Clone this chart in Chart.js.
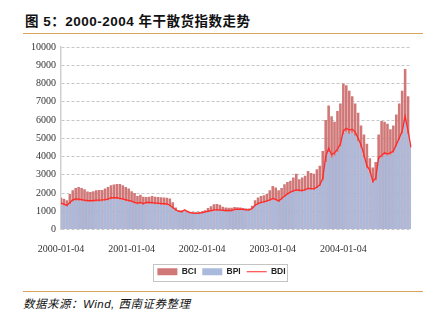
<!DOCTYPE html>
<html>
<head>
<meta charset="utf-8">
<script src="https://cdn.jsdelivr.net/npm/chart.js@4.4.1/dist/chart.umd.min.js"></script>
<style>
  html, body { margin: 0; padding: 0; background: #fff; }
  body { width: 434px; height: 323px; position: relative; overflow: hidden; }
  .title { position: absolute; left: 25px; top: 10px; font: bold 13.5px "Liberation Sans", "Noto Sans CJK SC", sans-serif; letter-spacing: 0.5px; color: #111; white-space: nowrap; }
  .rule { position: absolute; left: 23px; width: 400px; height: 1px; background: #d9a45c; }
  .chart-box { position: absolute; left: 0; top: 36px; width: 434px; height: 252px; }
  .source { position: absolute; left: 23px; top: 295px; font: italic 11.5px "Liberation Sans", "Noto Sans CJK SC", sans-serif; color: #111; white-space: nowrap; letter-spacing: 0.5px; }
</style>
</head>
<body>
<div class="title">图 5：2000-2004 年干散货指数走势</div>
<div class="rule" style="top:33px"></div>
<div class="chart-box"><canvas id="chart"></canvas></div>
<div class="rule" style="top:291px"></div>
<div class="source">数据来源：Wind, 西南证券整理</div>
<script>
// semi-monthly observations, 2000-2004
const years = ['2000', '2001', '2002', '2003', '2004'];
const periods = ['01-04', '01-18', '02-04', '02-18', '03-04', '03-18', '04-04', '04-18',
  '05-04', '05-18', '06-04', '06-18', '07-04', '07-18', '08-04', '08-18',
  '09-04', '09-18', '10-04', '10-18', '11-04', '11-18', '12-04', '12-18'];
const labels = years.flatMap(y => periods.map(p => y + '-' + p));

const bci = [
  1740, 1680, 1600, 1950, 2150, 2270, 2330, 2280, 2210, 2080, 2050, 2100, 2150, 2160, 2170, 2250, 2330, 2420, 2460, 2490, 2500, 2420, 2330, 2240,
  2100, 2000, 1830, 1900, 1800, 1780, 1790, 1830, 1800, 1780, 1770, 1750, 1740, 1700, 1500, 1200, 1060, 1050, 1060, 1030, 960, 950, 940, 960,
  1000, 1060, 1180, 1270, 1380, 1400, 1350, 1250, 1210, 1190, 1190, 1230, 1220, 1200, 1180, 1150, 1150, 1300, 1600, 1760, 1830, 1880, 1950, 2150,
  2390, 2300, 2150, 2280, 2480, 2600, 2670, 2850, 3050, 2750, 2850, 2950, 3200, 3100, 3050, 3300, 3500, 4300, 6000, 6800, 6200, 5900, 6500, 6900,
  8000, 7900, 7600, 7300, 6900, 6400, 5700, 5200, 4700, 3900, 3400, 3700, 5200, 5950, 5900, 5800, 5500, 5700, 6300, 6900, 7600, 8800, 7300, 4700
];
const bpi = [
  1370, 1330, 1270, 1400, 1550, 1590, 1580, 1560, 1540, 1520, 1510, 1520, 1540, 1540, 1550, 1570, 1600, 1660, 1670, 1670, 1640, 1610, 1560, 1520,
  1500, 1430, 1390, 1420, 1360, 1430, 1420, 1410, 1390, 1380, 1360, 1350, 1340, 1270, 1150, 1030, 960, 930, 1030, 940, 880, 860, 850, 870,
  880, 920, 960, 1000, 1030, 1030, 1030, 1010, 1000, 1000, 1000, 1060, 1080, 1070, 1060, 1040, 1040, 1110, 1290, 1380, 1440, 1480, 1530, 1580,
  1650, 1600, 1510, 1650, 1780, 1900, 2000, 2070, 2120, 2100, 2080, 2130, 2200, 2190, 2180, 2270, 2400, 2700, 3700, 4250, 3950, 4050, 4250, 4550,
  5200, 5350, 5250, 5300, 5150, 4850, 4500, 3950, 3350, 3100, 2550, 2700, 3850, 3950, 4100, 4050, 4100, 4200, 4550, 4900, 5250, 5950, 5250, 4550
];
const bdi = [
  1440, 1390, 1320, 1480, 1630, 1670, 1660, 1640, 1610, 1590, 1580, 1590, 1610, 1610, 1620, 1640, 1670, 1740, 1740, 1740, 1710, 1680, 1630, 1590,
  1560, 1490, 1450, 1480, 1420, 1490, 1480, 1470, 1450, 1440, 1420, 1410, 1400, 1330, 1200, 1080, 1000, 970, 1080, 980, 920, 900, 880, 900,
  920, 960, 1000, 1040, 1070, 1070, 1070, 1050, 1040, 1040, 1040, 1100, 1120, 1110, 1100, 1080, 1080, 1150, 1330, 1420, 1480, 1520, 1570, 1620,
  1700, 1650, 1560, 1700, 1830, 1950, 2050, 2120, 2170, 2150, 2130, 2180, 2250, 2240, 2230, 2320, 2450, 2800, 4000, 4450, 4100, 4200, 4400, 4700,
  5400, 5550, 5450, 5500, 5350, 5000, 4650, 4100, 3500, 3250, 2650, 2800, 3950, 4050, 4200, 4150, 4200, 4300, 4650, 5000, 5400, 6200, 5400, 4500
];

const serif = "'Liberation Serif', 'DejaVu Serif', serif";

const legendFrame = {
  id: 'legendFrame',
  afterDraw(chart) {
    const boxes = chart.legend.legendHitBoxes;
    if (!boxes || !boxes.length) return;
    const left = Math.min(...boxes.map(b => b.left)) - 4;
    const right = Math.max(...boxes.map(b => b.left + b.width)) + 2;
    const top = boxes[0].top - 4;
    const bottom = boxes[0].top + boxes[0].height + 4;
    const ctx = chart.ctx;
    ctx.save();
    ctx.strokeStyle = '#c4c4c4';
    ctx.lineWidth = 1;
    ctx.strokeRect(Math.round(left) + 0.5, Math.round(top) + 0.5, Math.round(right - left), Math.round(bottom - top));
    ctx.restore();
  }
};

new Chart(document.getElementById('chart'), {
  type: 'bar',
  data: {
    labels: labels,
    datasets: [
      { label: 'BCI', data: bci, backgroundColor: '#d07878', order: 3, grouped: false, barPercentage: 0.88, categoryPercentage: 1 },
      { label: 'BPI', data: bpi, backgroundColor: '#a9badc', order: 2, grouped: false, barPercentage: 0.88, categoryPercentage: 1 },
      { label: 'BDI', data: bdi, type: 'line', borderColor: '#ff2a2a', borderWidth: 1.3, pointRadius: 0, tension: 0, order: 1 }
    ]
  },
  options: {
    responsive: true,
    maintainAspectRatio: false,
    animation: false,
    layout: { padding: { left: 32, right: 23, top: 8, bottom: 2 } },
    plugins: {
      tooltip: { enabled: false },
      legend: {
        position: 'bottom',
        labels: {
          usePointStyle: true,
          pointStyleWidth: 20,
          boxHeight: 7,
          padding: 6,
          color: '#222',
          font: { family: 'Liberation Sans', size: 8.5, weight: 'bold' },
          generateLabels(chart) {
            return chart.data.datasets.map((ds, i) => ({
              text: ds.label,
              datasetIndex: i,
              fillStyle: ds.type === 'line' ? ds.borderColor : ds.backgroundColor,
              strokeStyle: ds.type === 'line' ? ds.borderColor : ds.backgroundColor,
              lineWidth: ds.type === 'line' ? 1 : 0,
              pointStyle: ds.type === 'line' ? 'line' : 'rect',
              fontColor: '#222',
              hidden: false
            }));
          }
        }
      }
    },
    scales: {
      x: {
        offset: false,
        grid: { display: false },
        border: { display: false },
        ticks: {
          autoSkip: false,
          maxRotation: 0,
          padding: 6,
          color: '#333',
          font: { family: serif, size: 10 },
          callback(value, index) {
            return index % 24 === 0 ? this.getLabelForValue(value) : null;
          }
        }
      },
      y: {
        min: 0,
        max: 10000,
        afterFit(scale) { scale.width = 29; },
        grid: { color: '#c6c6c6', drawTicks: false, lineWidth: 1 },
        border: { display: true, color: '#d0d0d0', width: 1.5, dash: [3, 2] },
        ticks: {
          stepSize: 1000,
          padding: 5,
          color: '#333',
          font: { family: serif, size: 10 },
          callback(value) { return String(value); }
        }
      }
    }
  },
  plugins: [legendFrame]
});
</script>
</body>
</html>
